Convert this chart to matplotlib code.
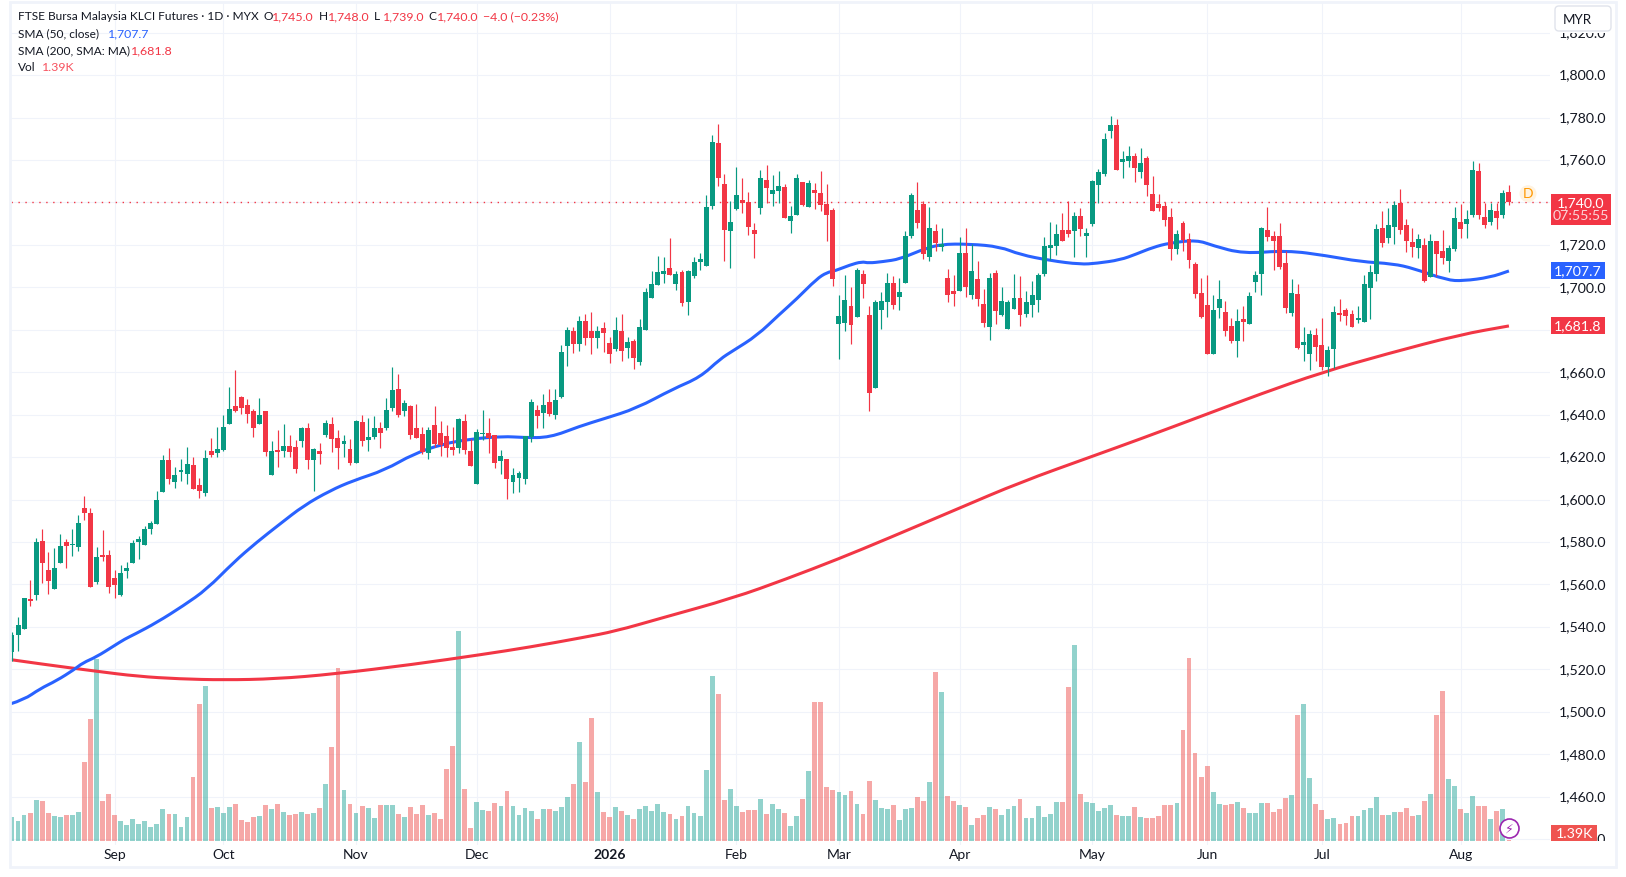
import numpy as np
import matplotlib
matplotlib.use("Agg")
import matplotlib.pyplot as plt
from matplotlib.patches import Rectangle, Circle, FancyBboxPatch, PathPatch
from matplotlib.path import Path
from matplotlib.transforms import ScaledTranslation

plt.rcParams["font.family"] = ["Lato", "DejaVu Sans"]

# Daily OHLC
opens = [
    1528, 1536, 1539, 1553.1, 1555, 1580.4, 1566.8, 1557.8, 1570.1, 1580,
    1578.7, 1577.6, 1596, 1593.6, 1561.1, 1573.9, 1573.9, 1563, 1555, 1566.3,
    1570.1, 1580, 1578.6, 1586.1, 1588.5, 1603.5, 1618.6, 1608.2, 1613, 1612,
    1616.3, 1606.8, 1603, 1622.9, 1621.9, 1623.3, 1635.6, 1644, 1648.3, 1644.5,
    1641.7, 1635.6, 1641.7, 1611.5, 1623.3, 1622.9, 1625.2, 1624.8, 1627.6, 1633.7,
    1618.6, 1622.9, 1630.4, 1635.6, 1629, 1626.2, 1623.8, 1617.2, 1636.5, 1628,
    1629.5, 1633.7, 1633.7, 1643.1, 1652, 1641.7, 1644, 1633.7, 1630.9, 1621.9,
    1635.1, 1631.3, 1629.9, 1624.8, 1624.3, 1637, 1622.9, 1607.3, 1630.7, 1631.3,
    1630.4, 1618.2, 1619.1, 1608.3, 1610.1, 1609.7, 1629.5, 1642.2, 1640.8, 1646,
    1640, 1648.5, 1672.3, 1679.4, 1673.3, 1684.1, 1679.4, 1676.1, 1680.8, 1673.8,
    1671, 1679.4, 1671.4, 1674.7, 1664.8, 1679.9, 1695, 1701.1, 1706.3, 1709.1,
    1701.6, 1707.2, 1693.1, 1705.3, 1711.9, 1710, 1738.3, 1768, 1748.7, 1726.5,
    1736.9, 1741.1, 1740.2, 1727, 1737.4, 1750.6, 1744, 1745.4, 1747.3, 1731.2,
    1734, 1749.6, 1737.8, 1745.8, 1744.4, 1739.3, 1736.4, 1682.7, 1683.2, 1691.2,
    1686, 1706.3, 1687, 1652.6, 1689.3, 1693.1, 1702, 1695.4, 1702, 1724.2,
    1736.4, 1739.3, 1714.3, 1726.5, 1719, 1704.4, 1698.3, 1698.3, 1716.2, 1696.4,
    1703.9, 1692.1, 1681.3, 1706.7, 1687, 1680.4, 1689.8, 1695, 1687.4, 1691.7,
    1694, 1706.3, 1718.5, 1719.5, 1727, 1727, 1726.5, 1733.6, 1724.2, 1729.8,
    1748.2, 1753.4, 1773.6, 1776.5, 1759, 1759.5, 1761.9, 1754.3, 1760.9, 1744,
    1739.2, 1738.3, 1733.1, 1718, 1730.3, 1722.8, 1711, 1697.3, 1691.7, 1668.6,
    1690.3, 1688.4, 1681.8, 1674.7, 1685, 1682.7, 1702.5, 1706.3, 1727, 1724.2,
    1724.2, 1711.4, 1687.9, 1696.9, 1672.8, 1668.6, 1677.5, 1672.8, 1662.4, 1671,
    1687.9, 1689.3, 1687.4, 1684.6, 1683.7, 1699.7, 1706.3, 1727.9, 1723.2, 1728.4,
    1739.9, 1729.4, 1721.3, 1718.5, 1719.9, 1705, 1721.8, 1717.1, 1712.4, 1718,
    1730.8, 1729.8, 1734, 1754.8, 1733.1, 1730.8, 1735.9, 1734, 1745,
]
highs = [
    1537.5, 1544.5, 1553.6, 1562.1, 1581.9, 1586.1, 1575.3, 1577.2, 1583.8, 1581.4,
    1586.1, 1592.7, 1601.7, 1596, 1577.6, 1585.6, 1576.2, 1566.8, 1569.1, 1570.6,
    1580.9, 1582.8, 1587.5, 1589.9, 1604, 1621, 1624.3, 1615.3, 1619, 1624.7,
    1620, 1610.1, 1623.3, 1629, 1634.2, 1639.8, 1653, 1661, 1648.8, 1647.4,
    1642.6, 1647.8, 1641.7, 1627.6, 1632.7, 1635.6, 1630.4, 1628, 1634.2, 1636.1,
    1624.3, 1626.6, 1637.5, 1638.9, 1632.8, 1630.4, 1628.5, 1637.5, 1639.8, 1638.4,
    1639.4, 1636.5, 1647.8, 1662.4, 1659.2, 1646.9, 1644.5, 1645, 1634.2, 1634.2,
    1644, 1637, 1635.1, 1634.2, 1638.4, 1640.3, 1628.5, 1633.2, 1642.2, 1638.4,
    1630.4, 1623.3, 1619.1, 1614.9, 1613.5, 1629.9, 1647.4, 1644.5, 1649.7, 1652,
    1652.1, 1672.8, 1681.3, 1681.3, 1686.5, 1687.4, 1688.4, 1681.8, 1683.7, 1676.6,
    1686, 1687.4, 1676.6, 1675.6, 1685, 1699.7, 1707.7, 1714.8, 1714.3, 1723.2,
    1707.7, 1708.2, 1708.2, 1714.3, 1716.2, 1743.5, 1771.8, 1776.9, 1753.4, 1740.7,
    1756.7, 1751.5, 1744.9, 1730.3, 1755.3, 1757.6, 1752.9, 1754.8, 1748.7, 1738.3,
    1753.4, 1749.6, 1750.6, 1749.1, 1754.8, 1748.7, 1737.4, 1696.4, 1705.8, 1700.1,
    1709.1, 1708.2, 1691.2, 1694, 1697.8, 1706.7, 1705.3, 1704.4, 1726.5, 1744.4,
    1749.6, 1740.7, 1737.8, 1729.8, 1728, 1708.6, 1705.8, 1723.7, 1728, 1720.4,
    1712.4, 1699.2, 1706.7, 1708.2, 1700.1, 1694, 1706.3, 1705.3, 1698.3, 1703,
    1706.7, 1723.7, 1730.8, 1729.8, 1735, 1740.7, 1735.5, 1737.4, 1728, 1750.6,
    1755.7, 1772.7, 1780.7, 1779.3, 1764.2, 1766.6, 1763.3, 1765.6, 1761.9, 1752.4,
    1744, 1740.2, 1737.4, 1727, 1731.2, 1725.6, 1711.9, 1704.4, 1705.8, 1696.4,
    1703.4, 1693.5, 1685.5, 1689.8, 1691.2, 1697.8, 1707.7, 1728.4, 1737.8, 1726.5,
    1730.3, 1717.1, 1703.9, 1701.6, 1681.3, 1679.9, 1680.8, 1685.5, 1672.3, 1691.2,
    1694.5, 1690.3, 1689.3, 1691.2, 1705.8, 1710.5, 1729.8, 1736, 1737.4, 1740.7,
    1746.3, 1732, 1728, 1725.1, 1723, 1725.1, 1721.8, 1727, 1720, 1737.8,
    1739.2, 1736.4, 1759.5, 1758.6, 1739.7, 1739.7, 1739.7, 1745.8, 1748,
]
lows = [
    1524, 1528.5, 1539, 1549.9, 1552.8, 1560.7, 1555.5, 1557.8, 1570.1, 1567.7,
    1573.5, 1575.7, 1590.3, 1558.8, 1560.2, 1571, 1556, 1553.6, 1554.5, 1563,
    1570.1, 1572, 1578.6, 1583.7, 1588.5, 1603.5, 1607.3, 1605.4, 1608.7, 1607.3,
    1605, 1600.7, 1601.7, 1620, 1620, 1622.9, 1635.6, 1641.2, 1640.3, 1636,
    1629.5, 1635.6, 1620.5, 1611.5, 1615.3, 1620, 1620, 1612.5, 1624.8, 1614.4,
    1604, 1616.7, 1629.5, 1622.4, 1614.4, 1620, 1616.3, 1617.2, 1625.2, 1622.9,
    1628.5, 1624.3, 1632.8, 1641.7, 1638.9, 1639.4, 1628.5, 1629, 1621.5, 1619.1,
    1624.8, 1620.5, 1620, 1621, 1622, 1621.5, 1615.8, 1607.3, 1628, 1622,
    1614.9, 1612, 1600.3, 1603.1, 1603.6, 1607.3, 1627.1, 1633.7, 1633.7, 1639.4,
    1638, 1648, 1662.9, 1669.1, 1670, 1672.8, 1668.6, 1671.4, 1669.5, 1664.3,
    1670, 1665.3, 1666.7, 1661.5, 1663.4, 1679.9, 1695, 1701.1, 1702, 1705.8,
    1698.7, 1691.2, 1687, 1704.4, 1708.2, 1710, 1736.9, 1747.7, 1712.4, 1709.1,
    1736.4, 1735, 1724.6, 1713.8, 1734.5, 1739.7, 1738.3, 1739.7, 1732.7, 1725.6,
    1734, 1738.2, 1737.8, 1736.9, 1736, 1721.8, 1700.6, 1666.2, 1679.4, 1673.3,
    1686, 1695, 1641.7, 1652.6, 1680.4, 1686, 1689.8, 1689.3, 1702, 1723.2,
    1728, 1713.3, 1712.4, 1717.1, 1717.1, 1693.1, 1691.2, 1698.3, 1695.4, 1694.5,
    1691.2, 1681.3, 1675.2, 1682.7, 1686.5, 1680.4, 1689.8, 1681.8, 1686, 1686,
    1688.4, 1705.3, 1712.9, 1715.2, 1721.8, 1723.7, 1714.3, 1724.2, 1714.3, 1728.9,
    1739.7, 1752.4, 1770.3, 1755.3, 1751.5, 1756.7, 1749.6, 1751.5, 1743, 1736,
    1736, 1728.9, 1712.9, 1715.7, 1717.1, 1709.1, 1695, 1685.5, 1668.6, 1668.6,
    1685.5, 1677.1, 1673.8, 1667.2, 1674.7, 1682.7, 1697.8, 1696.4, 1721.8, 1708.1,
    1708.6, 1687.9, 1686.5, 1671, 1665.3, 1661, 1665.3, 1661, 1658.2, 1662,
    1684.1, 1682.2, 1681.3, 1683.2, 1683.7, 1685, 1703, 1719, 1720.9, 1720.4,
    1725.1, 1716.6, 1714.3, 1713.8, 1702.5, 1705, 1705.5, 1711, 1707.2, 1717.1,
    1723.2, 1723.2, 1733.1, 1732.2, 1727.9, 1729.4, 1727.5, 1732.7, 1739,
]
closes = [
    1536, 1541, 1553.6, 1552.2, 1580, 1570.1, 1561.6, 1567.7, 1578.1, 1578.1,
    1579.2, 1588.9, 1593.6, 1558.8, 1572.9, 1572.9, 1558.8, 1559.7, 1565.4, 1567.7,
    1579.5, 1581.4, 1586.1, 1588.9, 1599.8, 1618.6, 1609.7, 1611.5, 1613.9, 1616.7,
    1605, 1604, 1619.6, 1621, 1623.8, 1634.2, 1642.6, 1641.7, 1643.1, 1640.3,
    1633.7, 1639.8, 1622.4, 1622.9, 1622.4, 1625.2, 1622.4, 1614.4, 1633.7, 1618.6,
    1623.8, 1621.5, 1636, 1628.5, 1624.3, 1627.6, 1617.2, 1637, 1627.6, 1629.5,
    1633.7, 1631.3, 1642.2, 1651.6, 1639.8, 1645.5, 1630.4, 1629, 1622.4, 1632.8,
    1626.2, 1625.7, 1624.3, 1623.3, 1638, 1623.3, 1615.8, 1631.8, 1631.3, 1628.8,
    1617.2, 1620.5, 1609.7, 1611.6, 1612.5, 1629.9, 1646, 1639.4, 1644.5, 1640.3,
    1646.9, 1669.5, 1679.9, 1673.3, 1684.1, 1676.1, 1676.1, 1679.4, 1678.5, 1668.6,
    1679.9, 1670, 1674.2, 1666.7, 1681.3, 1697.8, 1701.6, 1707.2, 1707.7, 1705.8,
    1706.3, 1692.6, 1707.7, 1711.9, 1713.3, 1737.8, 1768.5, 1751.5, 1727, 1730.8,
    1743.5, 1739.7, 1728.4, 1725.1, 1751.5, 1746.8, 1745.8, 1747.7, 1732.7, 1733.6,
    1751.5, 1738.6, 1749.1, 1744.4, 1738.8, 1734, 1703.9, 1686.5, 1694, 1682.2,
    1708.2, 1701.6, 1650.2, 1693.1, 1693.5, 1702, 1691.7, 1697.8, 1724.2, 1743.5,
    1730.3, 1715.7, 1728, 1720.9, 1720.4, 1696.4, 1696.9, 1716.2, 1700.1, 1707.7,
    1694.5, 1683.2, 1704.4, 1688.8, 1693.5, 1693.1, 1695, 1687, 1693.1, 1696.4,
    1705.8, 1719.5, 1720, 1725.1, 1721.8, 1725.1, 1733.6, 1727.5, 1725.6, 1750.1,
    1754.3, 1769.9, 1776.5, 1755.3, 1760.5, 1761.9, 1756.2, 1758.6, 1748.2, 1736,
    1737.4, 1731.7, 1718, 1725.1, 1722.3, 1712.9, 1696.8, 1686, 1668.6, 1689.3,
    1694.5, 1679.4, 1674.7, 1684.1, 1683.7, 1695.9, 1705.8, 1727.9, 1723.7, 1721.8,
    1709.6, 1690.2, 1697.3, 1671.4, 1674.2, 1678, 1671.9, 1662.4, 1670.5, 1688.4,
    1687, 1686.5, 1681.3, 1685.5, 1701.6, 1707.2, 1727.5, 1720.9, 1729.4, 1738.8,
    1727, 1721.8, 1719, 1722.8, 1703, 1721.8, 1715.7, 1713.8, 1718.5, 1732.7,
    1727.5, 1732.2, 1755.3, 1734, 1729.4, 1736.4, 1732.7, 1744.4, 1740,
]
volumes = [
    24, 20, 26, 28, 41, 40, 28, 25, 24, 26,
    26, 29, 79, 122, 182, 40, 47, 26, 20, 16,
    22, 17, 20, 14, 17, 32, 27, 27, 14, 24,
    64, 137, 155, 33, 34, 28, 34, 37, 21, 19,
    24, 25, 36, 32, 37, 29, 26, 27, 29, 27,
    28, 33, 57, 94, 173, 51, 37, 28, 35, 33,
    23, 36, 36, 36, 27, 24, 34, 27, 36, 26,
    28, 22, 72, 95, 210, 52, 13, 39, 31, 30,
    38, 35, 50, 35, 26, 33, 30, 22, 32, 32,
    30, 34, 44, 57, 99, 59, 123, 49, 29, 24,
    34, 30, 26, 22, 32, 35, 30, 37, 29, 27,
    22, 25, 35, 28, 25, 71, 165, 147, 41, 52,
    35, 29, 31, 31, 42, 27, 37, 32, 28, 15,
    25, 42, 70, 139, 139, 54, 51, 49, 46, 50,
    37, 27, 60, 41, 33, 32, 36, 21, 32, 33,
    44, 40, 59, 169, 149, 45, 40, 36, 34, 16,
    23, 26, 34, 32, 26, 32, 35, 42, 23, 23,
    35, 24, 27, 39, 39, 154, 196, 47, 39, 38,
    30, 33, 36, 26, 25, 25, 34, 24, 23, 23,
    25, 36, 36, 38, 111, 183, 88, 64, 75, 49,
    37, 36, 37, 39, 33, 28, 28, 38, 38, 29,
    32, 43, 46, 126, 137, 63, 37, 31, 22, 23,
    17, 18, 25, 25, 31, 33, 44, 26, 26, 29,
    29, 33, 25, 26, 40, 47, 126, 150, 62, 55,
    32, 28, 45, 35, 35, 22, 30, 32, 1.39,
]

# Moving averages, read at points along each line
sma50_at = [
    -0.3, 2, 4.6, 7.4, 10.3, 11.7, 14, 16.8, 18.7, 20.3, 24, 28.4, 32.3, 36.7, 40.5,
    44.4, 48.3, 52.7, 56.5, 61.8, 66.5, 71.4, 75.9, 81.4, 84.7, 89.1, 94, 98, 103.5,
    109.5, 114, 117.3, 119.5, 123.4, 127.2, 130, 133.3, 135, 136.4, 138.8, 140.8,
    141.9, 144.3, 147.1, 150.4, 153.7, 158.7, 163.7, 167, 172, 177, 179.7, 183.6,
    186.3, 189, 191.8, 196.3, 199, 204, 211.2, 217.8, 223.3, 228.8, 232.2, 237.7,
    240.4, 244.9, 248,
]
sma50 = [
    1503.7, 1505.7, 1510.8, 1514.7, 1519.9, 1523, 1525.9, 1530.9, 1534.3, 1536.5, 1542.1,
    1550, 1557.8, 1570.4, 1579.8, 1588.5, 1597.1, 1604.2, 1608.9, 1613.9, 1621.5, 1626.2,
    1628.5, 1629.8, 1629.2, 1629.2, 1634.5, 1638, 1643, 1652.1, 1657.6, 1666.2, 1670.2,
    1677.2, 1687.4, 1694.5, 1703.9, 1707, 1707.8, 1710.5, 1712.1, 1711.4, 1712.1, 1713.3,
    1717.3, 1720.3, 1720.4, 1719.1, 1715.4, 1712.6, 1710.8, 1711.3, 1712.9, 1715.7, 1718.8,
    1720.9, 1722.3, 1719.6, 1715.8, 1717.4, 1714.9, 1712.1, 1711.1, 1708.9, 1703.4, 1703,
    1704.7, 1707.7,
]
sma200_at = [
    -0.3, 5.4, 14, 20.8, 27.7, 35.1, 43.7, 53.4, 66.4, 77.9, 85.8, 94.4, 100, 107.4, 119.5,
    128.3, 136.9, 144.9, 156.9, 167, 179, 186.9, 198, 206.8, 217, 227.7, 239.9, 248,
]
sma200 = [
    1524.6, 1522.3, 1519.1, 1516.7, 1515.5, 1515, 1515.5, 1517.8, 1522.3, 1527, 1530.5, 1534.9,
    1538, 1544, 1553.6, 1562.6, 1572, 1581.4, 1595.9, 1608.1, 1620.4, 1628.5, 1640.3, 1649.7,
    1659.9, 1668.6, 1677.7, 1681.8,
]

price_ticks = list(range(1440, 1821, 20))
hidden_ticks = [1680, 1740]  # sit behind the price tags
month_at = [17, 35, 57, 77, 99, 120, 137, 157, 179, 198, 217, 240]
month_labels = ["Sep", "Oct", "Nov", "Dec", "2026", "Feb", "Mar", "Apr", "May", "Jun", "Jul", "Aug"]

GREEN = "#089981"
RED = "#F23645"
BLUE = "#2962FF"
INK = "#131722"
GRID = "#f0f3fa"
VOL_UP = "#26A69A"
VOL_DOWN = "#EF5350"

W, H = 1626, 878
L, R, T, B = 10.5, 1550, 4, 846


def smooth_path(xs, ys):
    # quadratic curve through the midpoints, keeps the read points as controls
    verts = [(xs[0], ys[0])]
    codes = [Path.MOVETO]
    for i in range(1, len(xs) - 1):
        verts.append((xs[i], ys[i]))
        verts.append(((xs[i] + xs[i + 1]) / 2, (ys[i] + ys[i + 1]) / 2))
        codes += [Path.CURVE3, Path.CURVE3]
    verts.append((xs[-1], ys[-1]))
    codes.append(Path.LINETO)
    return Path(verts, codes)


opens = np.array(opens)
closes = np.array(closes)
x = np.arange(len(closes))
up = closes >= opens
colors = np.where(up, GREEN, RED)
vol_colors = np.where(up, VOL_UP, VOL_DOWN)

fig = plt.figure(figsize=(W / 100, H / 100), dpi=100, facecolor="white")
rect = [L / W, 1 - B / H, (R - L) / W, (B - T) / H]

# grid at the bottom, then volume, then prices
ax_grid = fig.add_axes(rect, zorder=1)
ax_vol = fig.add_axes(rect, zorder=2, sharex=ax_grid)
ax = fig.add_axes(rect, zorder=3, sharex=ax_grid)

ax.set_xlim((L - 12) / 6.036, (R - 12) / 6.036)
ax.set_ylim(1740 - (B - 203.4) / 2.1225, 1740 - (T - 203.4) / 2.1225)
ax_grid.set_ylim(ax.get_ylim())
ax_vol.set_ylim(-4, 838)  # 1K is about one pixel, baseline near the bottom

ax_grid.set_yticks(price_ticks)
ax_grid.set_xticks(month_at)
ax_grid.grid(True, color=GRID, lw=0.8)
ax_grid.set_axisbelow(True)
ax_grid.tick_params(length=0, labelleft=False, labelbottom=False)

ax_vol.bar(x, volumes, width=0.8, color=vol_colors, alpha=0.5, lw=0)
ax_vol.patch.set_visible(False)
ax_vol.set_yticks([])
ax_vol.tick_params(length=0, labelbottom=False)

ax.patch.set_visible(False)
ax.axhline(closes[-1], color=RED, lw=1, ls=(0, (1, 4)), zorder=1)
ax.add_patch(PathPatch(smooth_path(sma200_at, sma200), fill=False, ec=RED, lw=2.2, zorder=2))
ax.add_patch(PathPatch(smooth_path(sma50_at, sma50), fill=False, ec=BLUE, lw=2.2, zorder=2))

ax.vlines(x, lows, highs, colors=colors, lw=0.85, zorder=3)
body_low = np.minimum(opens, closes)
body_h = np.maximum(np.abs(closes - opens), 0.5)
ax.bar(x, body_h, bottom=body_low, width=0.82, color=colors, lw=0, zorder=4)

ax.yaxis.tick_right()
ax.set_yticks(price_ticks)
ax.set_yticklabels(["" if p in hidden_ticks else f"{p:,.1f}" for p in price_ticks],
                   fontsize=10.2, color=INK)
ax.set_xticks(month_at)
ax.set_xticklabels(month_labels, fontsize=10, color=INK)
ax.get_xticklabels()[4].set_fontweight("bold")
ax.tick_params(axis="y", length=0, pad=6.3)
ax.tick_params(axis="x", length=0, pad=2.5)

# price labels sit a touch above their grid lines
nudge = ScaledTranslation(0, 1.5 / 100, fig.dpi_scale_trans)
for lab in ax.get_yticklabels():
    lab.set_transform(lab.get_transform() + nudge)

for a in (ax, ax_grid, ax_vol):
    for s in a.spines.values():
        s.set_visible(False)

# overlay in pixel coordinates for the frame, tags and header
ov = fig.add_axes([0, 0, 1, 1], zorder=5)
ov.set_xlim(0, W)
ov.set_ylim(H, 0)
ov.axis("off")
ov.patch.set_visible(False)

# top and bottom of the price scale are clipped in the reference
ov.add_patch(Rectangle((1551, 3), 64, 30.5, fc="white", ec="none"))
ov.add_patch(Rectangle((1551, 842), 64, 25, fc="white", ec="none"))
ov.add_patch(Rectangle((10, 2.5), 1606, 866, fill=False, ec=GRID, lw=2))


def price_y(p):
    return 203.4 + (1740 - p) * 2.1225


def tag(y0, y1, x1, color):
    ov.add_patch(Rectangle((1551, y0), x1 - 1551, y1 - y0, fc=color, ec="none"))


TAG_FS = 10.2
tag(195, 225.5, 1611, RED)
ov.text(1581, 203, "1,740.0", color="white", fontsize=TAG_FS, ha="center", va="center")
ov.text(1581, 216.5, "07:55:55", color="#fbd5d8", fontsize=TAG_FS, ha="center", va="center")
tag(263, 279.5, 1605, BLUE)
ov.text(1578, price_y(1707.7) - 0.5, "1,707.7", color="white", fontsize=TAG_FS, ha="center", va="center")
tag(318, 334.5, 1605, RED)
ov.text(1578, price_y(1681.8) - 0.5, "1,681.8", color="white", fontsize=TAG_FS, ha="center", va="center")
tag(826, 842, 1597, "#EF5350")
ov.text(1574, 834, "1.39K", color="white", fontsize=TAG_FS, ha="center", va="center")

ov.add_patch(Circle((1528, 194.7), 8.5, fc="#FFF3E0", ec="none"))
ov.text(1528, 194.5, "D", color="#FF9800", fontsize=10, ha="center", va="center")

ov.add_patch(FancyBboxPatch((1555, 7), 56, 25, boxstyle="round,pad=0,rounding_size=4",
                            fc="white", ec="#e0e3eb", lw=1))
ov.text(1563, 19.5, "MYR", color=INK, fontsize=9.6, va="center")

ov.add_patch(Circle((1509.5, 829.5), 9.5, fc="white", ec="#9C27B0", lw=1.2))
ov.text(1509.5, 829.5, "\u26a1", color="#9C27B0", fontsize=9, ha="center", va="center",
        family="DejaVu Sans")

# header lines
FS = 8.6
FS_NUM = 8.9
ov.text(18, 17, "FTSE Bursa Malaysia KLCI Futures \u00b7 1D \u00b7 MYX", color=INK, fontsize=FS, va="center")
for px, label, val in [(263, "O", "1,745.0"), (319, "H", "1,748.0"), (374, "L", "1,739.0"), (428, "C", "1,740.0")]:
    ov.text(px, 17, label, color=INK, fontsize=FS, va="center")
    ov.text(px + 9, 17, val, color=RED, fontsize=FS_NUM, va="center")
ov.text(483, 17, "\u22124.0 (\u22120.23%)", color=RED, fontsize=FS_NUM, va="center")
ov.text(18, 34, "SMA (50, close)", color=INK, fontsize=FS, va="center")
ov.text(108, 34, "1,707.7", color=BLUE, fontsize=FS_NUM, va="center")
ov.text(18, 51, "SMA (200, SMA: MA)", color=INK, fontsize=FS, va="center")
ov.text(131, 51, "1,681.8", color=RED, fontsize=FS_NUM, va="center")
ov.text(18, 67.5, "Vol", color=INK, fontsize=FS, va="center")
ov.text(42, 67.5, "1.39K", color="#F7525F", fontsize=FS_NUM, va="center")

fig.savefig("out.png", dpi=100)
plt.close(fig)
